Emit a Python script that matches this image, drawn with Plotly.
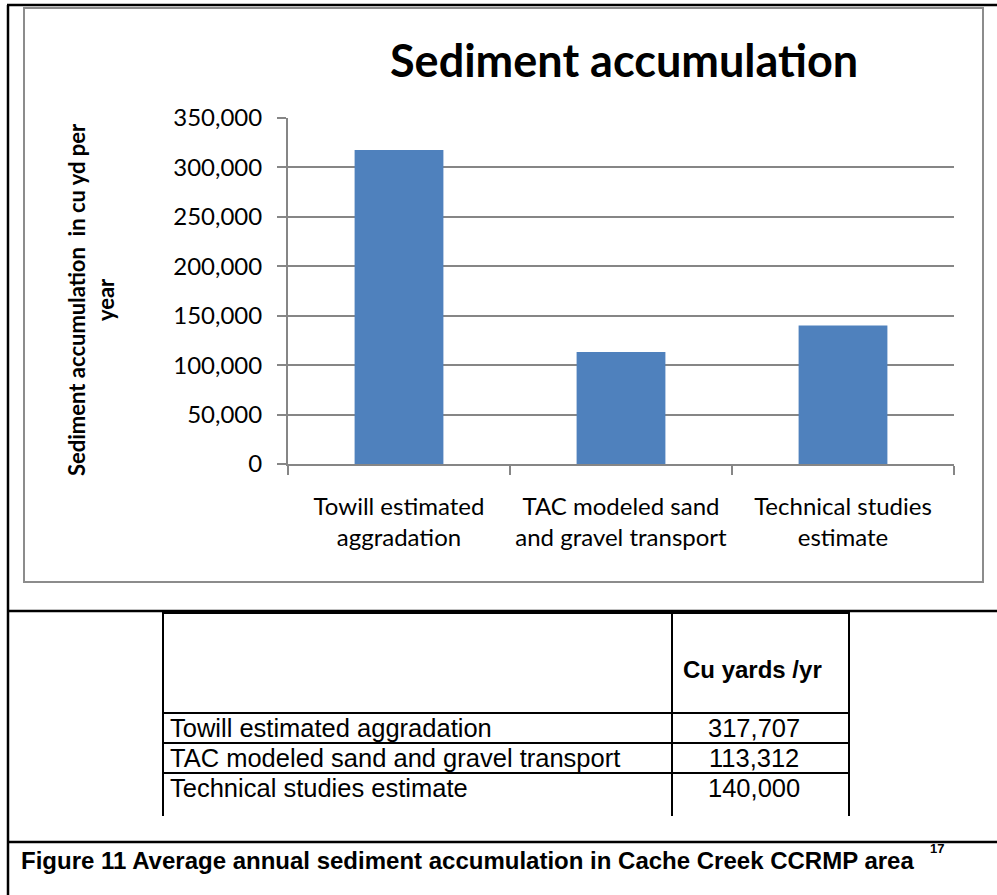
import plotly.graph_objects as go

# Data
categories = [
    "Towill estimated aggradation",
    "TAC modeled sand and gravel transport",
    "Technical studies estimate",
]
axis_labels = [
    "Towill estimated<br>aggradation",
    "TAC modeled sand<br>and gravel transport",
    "Technical studies<br>estimate",
]
values = [317707, 113312, 140000]
y_ticks = [0, 50000, 100000, 150000, 200000, 250000, 300000, 350000]

W, H = 997, 895
# plot-area pixel box
L, R, T, B = 288, 954, 118, 464


def px(x):
    return (x - L) / (R - L)


def py(y):
    return (B - y) / (B - T)


CHART_FONT = "Lato, Calibri, sans-serif"
DOC_FONT = "Liberation Sans, Arial, sans-serif"
GRAY = "#868686"

fig = go.Figure()
fig.add_trace(
    go.Bar(
        x=categories,
        y=values,
        marker=dict(color="#4F81BD", line=dict(width=0)),
        hoverinfo="x+y",
    )
)

shapes = []


def line(x0, y0, x1, y1, color="black", width=2):
    shapes.append(
        dict(
            type="line", xref="paper", yref="paper",
            x0=px(x0), y0=py(y0), x1=px(x1), y1=py(y1),
            line=dict(color=color, width=width), layer="above",
        )
    )


# page frame
line(8, 5, 8, 895, width=2.5)
line(7, 5, 997, 5, width=2.5)
line(7, 611, 997, 611, width=2.5)
line(7, 842, 997, 842, width=2.5)

# chart area border
shapes.append(
    dict(
        type="rect", xref="paper", yref="paper",
        x0=px(24), y0=py(8), x1=px(983), y1=py(582),
        line=dict(color="#8c8c8c", width=2), fillcolor="rgba(0,0,0,0)",
        layer="below",
    )
)

# table grid
col_x = [163, 672, 849]
row_y = [613, 713, 743, 773]
tbl_bottom = 816
for cx in col_x:
    line(cx, 612, cx, tbl_bottom, width=2)
for ry in row_y:
    line(col_x[0], ry, col_x[-1], ry, width=2)

annotations = []


def text(x, y, s, size, family, bold=False, xanchor="center", angle=0, color="black"):
    annotations.append(
        dict(
            xref="paper", yref="paper", x=px(x), y=py(y),
            text=f"<b>{s}</b>" if bold else s,
            showarrow=False, xanchor=xanchor, yanchor="middle",
            textangle=angle,
            font=dict(family=family, size=size, color=color),
        )
    )


# chart title and y-axis title
text(624, 60, "Sediment accumulation", 45, CHART_FONT, bold=True)
text(91, 300, "Sediment accumulation  in cu yd per<br>year", 22, CHART_FONT, bold=True, angle=-90)

# table contents
text(752, 669, "Cu yards /yr", 24, DOC_FONT, bold=True)
row_centers = [728, 758, 788]
for name, v, yc in zip(categories, values, row_centers):
    text(168, yc, name, 25.5, DOC_FONT, xanchor="left")
    text(754, yc, f"{v:,}", 25.5, DOC_FONT)

# caption
text(19, 860, "Figure 11 Average annual sediment accumulation in Cache Creek CCRMP area", 24, DOC_FONT, bold=True, xanchor="left")
text(928, 848, "17", 13, DOC_FONT, bold=True, xanchor="left")

fig.update_layout(
    width=W, height=H,
    margin=dict(l=L, r=W - R, t=T, b=H - B, pad=0),
    paper_bgcolor="white", plot_bgcolor="white",
    showlegend=False,
    bargap=0.6,
    shapes=shapes,
    annotations=annotations,
    xaxis=dict(
        tickmode="array", tickvals=categories, ticktext=axis_labels,
        showline=True, linecolor=GRAY, linewidth=2,
        ticks="outside", tickson="boundaries", ticklen=9, tickcolor=GRAY, tickwidth=2,
        ticklabelstandoff=20,
        tickfont=dict(family=CHART_FONT, size=24, color="black"),
        showgrid=False, fixedrange=True,
    ),
    yaxis=dict(
        range=[0, 350000], tickvals=y_ticks, tickformat=",",
        showline=True, linecolor=GRAY, linewidth=2,
        ticks="outside", ticklen=9, tickcolor=GRAY, tickwidth=2,
        ticklabelstandoff=10,
        showgrid=True, gridcolor=GRAY, gridwidth=2,
        zeroline=False,
        tickfont=dict(family=CHART_FONT, size=24, color="black"),
        fixedrange=True,
    ),
)

fig.write_html("out.html")
